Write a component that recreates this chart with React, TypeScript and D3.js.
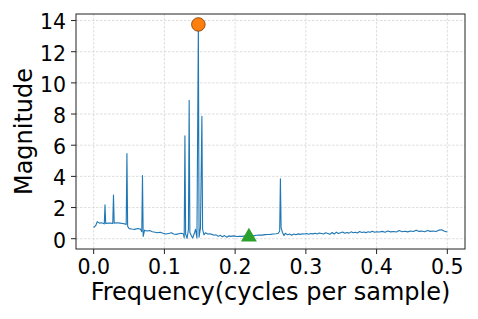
import React from "react";
import * as d3 from "d3";

// spectrum (frequency in cycles per sample, magnitude)
const freqs = [
  0.000, 0.003, 0.005, 0.008, 0.011, 0.014, 0.015, 0.016, 0.017, 0.020,
  0.024, 0.027, 0.028, 0.029, 0.033, 0.037, 0.041, 0.044, 0.046, 0.047,
  0.048, 0.050, 0.054, 0.058, 0.062, 0.066, 0.068, 0.069, 0.070, 0.072,
  0.075, 0.079, 0.083, 0.087, 0.090, 0.094, 0.098, 0.102, 0.106, 0.110,
  0.113, 0.117, 0.120, 0.124, 0.127, 0.128, 0.129, 0.130, 0.132, 0.134,
  0.135, 0.136, 0.138, 0.140, 0.142, 0.144, 0.146, 0.148, 0.149, 0.151,
  0.153, 0.154, 0.156, 0.158, 0.161, 0.164, 0.167, 0.170, 0.173, 0.176,
  0.179, 0.182, 0.185, 0.188, 0.191, 0.194, 0.198, 0.202, 0.206, 0.210,
  0.214, 0.218, 0.222, 0.226, 0.230, 0.234, 0.238, 0.242, 0.246, 0.250,
  0.254, 0.258, 0.261, 0.263, 0.264, 0.265, 0.267, 0.269, 0.271, 0.274,
  0.277, 0.280, 0.283, 0.286, 0.289, 0.292, 0.295, 0.298, 0.301, 0.304,
  0.307, 0.310, 0.313, 0.316, 0.319, 0.322, 0.325, 0.328, 0.331, 0.334,
  0.337, 0.340, 0.343, 0.346, 0.349, 0.352, 0.355, 0.358, 0.361, 0.364,
  0.367, 0.370, 0.373, 0.376, 0.379, 0.382, 0.385, 0.388, 0.391, 0.394,
  0.397, 0.400, 0.404, 0.408, 0.412, 0.416, 0.420, 0.424, 0.428, 0.432,
  0.436, 0.440, 0.444, 0.448, 0.452, 0.456, 0.460, 0.464, 0.468, 0.472,
  0.476, 0.480, 0.484, 0.488, 0.492, 0.496, 0.500,
];
const magnitudes = [
  0.72, 0.85, 1.10, 1.00, 1.02, 0.98, 0.95, 2.17, 0.98, 1.00,
  1.00, 0.98, 2.80, 1.00, 1.02, 1.00, 0.98, 0.95, 0.92, 5.47,
  0.80, 0.65, 0.62, 0.60, 0.65, 0.62, 0.45, 4.05, 0.15, 0.55,
  0.50, 0.52, 0.45, 0.42, 0.38, 0.42, 0.35, 0.30, 0.34, 0.38,
  0.30, 0.28, 0.32, 0.35, 0.30, 0.05, 6.60, 0.30, 0.02, 0.60,
  8.88, 0.40, 0.20, 0.05, 0.30, 0.60, 0.05, 13.75, 0.10, 0.70,
  7.86, 0.60, 0.25, 0.38, 0.30, 0.32, 0.28, 0.22, 0.25, 0.15,
  0.22, 0.12, 0.20, 0.10, 0.18, 0.15, 0.18, 0.14, 0.16, 0.15,
  0.18, 0.16, 0.20, 0.18, 0.22, 0.24, 0.23, 0.26, 0.27, 0.28,
  0.30, 0.32, 0.35, 0.50, 3.85, 0.70, 0.40, 0.20, 0.35, 0.25,
  0.30, 0.22, 0.30, 0.26, 0.31, 0.28, 0.32, 0.30, 0.33, 0.29,
  0.34, 0.31, 0.35, 0.30, 0.36, 0.33, 0.30, 0.38, 0.34, 0.28,
  0.40, 0.30, 0.42, 0.33, 0.38, 0.43, 0.35, 0.40, 0.36, 0.44,
  0.38, 0.42, 0.37, 0.46, 0.40, 0.43, 0.39, 0.45, 0.41, 0.48,
  0.42, 0.45, 0.43, 0.47, 0.42, 0.50, 0.44, 0.46, 0.43, 0.52,
  0.45, 0.48, 0.44, 0.50, 0.46, 0.55, 0.47, 0.49, 0.45, 0.53,
  0.47, 0.50, 0.46, 0.55, 0.58, 0.48, 0.43,
];

// highlighted points
const peakPoint = { f: 0.148, m: 13.75 };
const minPoint = { f: 0.2195, m: 0.18 };

const xTicks = [0.0, 0.1, 0.2, 0.3, 0.4, 0.5];
const yTicks = [0, 2, 4, 6, 8, 10, 12, 14];

const W = 478;
const H = 319;
const margin = { top: 14, right: 13, bottom: 70, left: 76 };

export default function App() {
  const innerW = W - margin.left - margin.right;
  const innerH = H - margin.top - margin.bottom;

  const x = d3.scaleLinear().domain([-0.025, 0.525]).range([0, innerW]);
  const y = d3.scaleLinear().domain([-0.66, 14.42]).range([innerH, 0]);

  const line = d3
    .line<number>()
    .x((d, i) => x(freqs[i]))
    .y((d) => y(d));

  const tri = d3.symbol().type(d3.symbolTriangle).size(110)();

  const font = "DejaVu Sans, sans-serif";

  return (
    <svg
      width={W}
      height={H}
      style={{ position: "absolute", left: 0, top: 0, background: "#fff" }}
      fontFamily={font}
    >
      <g transform={`translate(${margin.left},${margin.top})`}>
        {/* grid */}
        {xTicks.map((t) => (
          <line
            key={"gx" + t}
            x1={x(t)}
            x2={x(t)}
            y1={0}
            y2={innerH}
            stroke="#d6d6d6"
            strokeWidth={0.8}
            strokeDasharray="2.5,1.5"
          />
        ))}
        {yTicks.map((t) => (
          <line
            key={"gy" + t}
            x1={0}
            x2={innerW}
            y1={y(t)}
            y2={y(t)}
            stroke="#d6d6d6"
            strokeWidth={0.8}
            strokeDasharray="2.5,1.5"
          />
        ))}

        {/* spectrum */}
        <path
          d={line(magnitudes) || ""}
          fill="none"
          stroke="#1f77b4"
          strokeWidth={1.1}
          strokeLinejoin="round"
        />

        {/* markers */}
        <circle
          cx={x(peakPoint.f)}
          cy={y(peakPoint.m)}
          r={6.8}
          fill="#ff7f0e"
          stroke="#7a3a00"
          strokeWidth={0.8}
        />
        <path
          d={tri || ""}
          transform={`translate(${x(minPoint.f)},${y(minPoint.m) + 1})`}
          fill="#2ca02c"
        />

        {/* spines */}
        <rect x={0} y={0} width={innerW} height={innerH} fill="none" stroke="#222" strokeWidth={1} />

        {/* x ticks */}
        {xTicks.map((t) => (
          <g key={"tx" + t} transform={`translate(${x(t)},${innerH})`}>
            <line y1={0} y2={5} stroke="#222" />
            <text y={24.5} textAnchor="middle" fontSize={20.5} fill="#000">
              {t.toFixed(1)}
            </text>
          </g>
        ))}
        {/* y ticks */}
        {yTicks.map((t) => (
          <g key={"ty" + t} transform={`translate(0,${y(t)})`}>
            <line x1={-5} x2={0} stroke="#222" />
            <text x={-10} dy="0.43em" textAnchor="end" fontSize={20.5} fill="#000">
              {t}
            </text>
          </g>
        ))}

        <text
          x={innerW / 2}
          y={innerH + 51}
          textAnchor="middle"
          fontSize={24}
          fill="#000"
        >
          Frequency(cycles per sample)
        </text>
        <text
          transform={`translate(${-44},${innerH / 2}) rotate(-90)`}
          textAnchor="middle"
          fontSize={24}
          fill="#000"
        >
          Magnitude
        </text>
      </g>
    </svg>
  );
}
